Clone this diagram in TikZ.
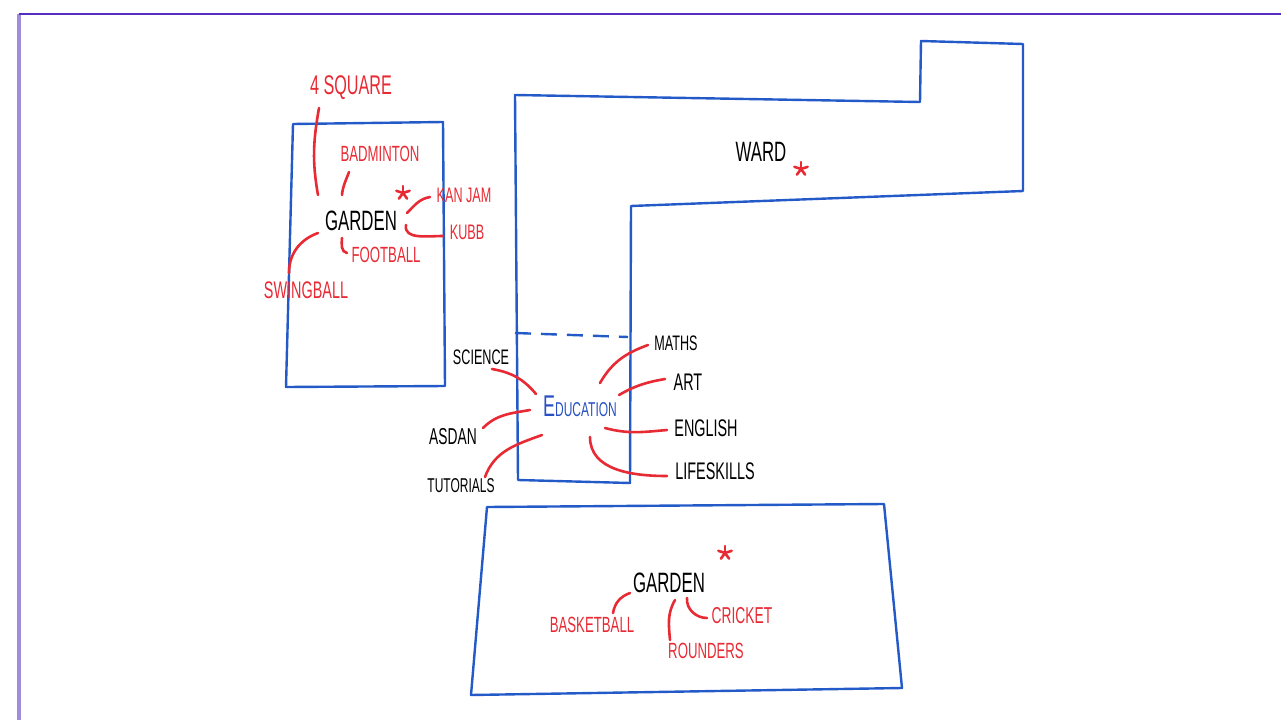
\documentclass[tikz,border=0pt]{standalone}
\usepackage{fontspec}
\setmainfont[FakeStretch=0.6]{Liberation Sans}
\definecolor{pen}{RGB}{35,90,200}
\definecolor{marker}{RGB}{232,42,52}
\definecolor{frameline}{RGB}{85,45,195}
\definecolor{edublue}{RGB}{40,80,195}

\begin{document}
\begin{tikzpicture}[x=0.5pt,y=0.5pt,
    room/.style={pen, line width=1.2pt, line join=round},
    link/.style={marker, line width=1.3pt, line cap=round},
    place/.style={inner sep=0pt, black, font=\fontsize{14}{14}\selectfont},
    game/.style={inner sep=0pt, marker, font=\fontsize{#1}{#1}\selectfont},
    subject/.style={inner sep=0pt, black, font=\fontsize{#1}{#1}\selectfont}]
          \useasboundingbox (0,0) rectangle (1281,720);

          % Page frame
          \draw [frameline!55, line width=1.8pt] (19,706) -- (19,0);
          \draw [frameline, line width=1pt] (19,706) -- (1281,706);

          % Rooms
          \draw [room] (293,596) -- (443,598) -- (445,334) -- (286,333) -- cycle;
          \draw [room] (515,625) -- (920,618) -- (921,679) -- (1023,676) --
            (1023,529) -- (631,514) -- (630,237) -- (518,240) -- cycle;
          \draw [room, dashed, dash pattern=on 8pt off 5pt] (515,387) -- (628,383);
          \draw [room] (487,213) -- (884,216) -- (902,32) -- (471,25) -- cycle;

          % Top garden
          \node [place] (gardenL) at (361,499) {GARDEN};
          \node [game=13.5] (square) at (351,632) {4 SQUARE};
          \node [game=11] (badminton) at (380,566) {BADMINTON};
          \node [game=10.5] (kanjam) at (464,525) {KAN JAM};
          \node [game=10.5] (kubb) at (467,488) {KUBB};
          \node [game=11] (football) at (386,465) {FOOTBALL};
          \node [game=12] (swingball) at (306,430) {SWINGBALL};
          \coordinate (starL) at (403,527);

          \draw [link] ([shift={(-32,-20)}]square.center) to[out=260, in=100]
            ([shift={(-43,26)}]gardenL.center);
          \draw [link] ([shift={(-31,-18)}]badminton.center) to[out=250, in=85]
            ([shift={(-19,26)}]gardenL.center);
          \draw [link] ([shift={(46,8)}]gardenL.center) to[out=45, in=190]
            ([shift={(-34,-2)}]kanjam.center);
          \draw [link] ([shift={(45,-4)}]gardenL.center) to[out=260, in=180]
            ([shift={(-24,-4)}]kubb.center);
          \draw [link] ([shift={(-19,-17)}]gardenL.center) to[out=265, in=170]
            ([shift={(-39,2)}]football.center);
          \draw [link] ([shift={(-43,-12)}]gardenL.center) to[out=200, in=90]
            ([shift={(-17,17)}]swingball.center);

          % Ward
          \node [place] (ward) at (761,568) {WARD};
          \coordinate (starW) at (801,551);

          % Education
          \node [inner sep=0pt, edublue, font=\fontsize{10}{10}\selectfont] (edu)
            at (580,314) {{\fontsize{15}{15}\selectfont E}DUCATION};
          \node [subject=10.5] (science) at (481,363) {SCIENCE};
          \node [subject=10.5] (maths) at (676,377) {MATHS};
          \node [subject=12] (art) at (688,338) {ART};
          \node [subject=11.5] (asdan) at (453,283) {ASDAN};
          \node [subject=12] (english) at (706,292) {ENGLISH};
          \node [subject=10] (tutorials) at (461,234) {TUTORIALS};
          \node [subject=12] (lifeskills) at (715,249) {LIFESKILLS};

          \draw [link] ([shift={(11,-12)}]science.center) to[out=-10, in=130]
            ([shift={(-44,12)}]edu.center);
          \draw [link] ([shift={(-28,-2)}]maths.center) to[out=200, in=60]
            ([shift={(20,23)}]edu.center);
          \draw [link] ([shift={(-23,3)}]art.center) to[out=190, in=30]
            ([shift={(39,11)}]edu.center);
          \draw [link] ([shift={(30,9)}]asdan.center) to[out=45, in=190]
            ([shift={(-50,-4)}]edu.center);
          \draw [link] ([shift={(25,-22)}]edu.center) to[out=-15, in=185]
            ([shift={(-39,-2)}]english.center);
          \draw [link] ([shift={(24,9)}]tutorials.center) to[out=70, in=200]
            ([shift={(-38,-29)}]edu.center);
          \draw [link] ([shift={(10,-31)}]edu.center) to[out=270, in=180]
            ([shift={(-48,-5)}]lifeskills.center);

          % Bottom garden
          \node [place] (gardenB) at (669,137) {GARDEN};
          \node [game=11] (basketball) at (592,95) {BASKETBALL};
          \node [game=11.5] (cricket) at (742,104) {CRICKET};
          \node [game=11] (rounders) at (706,69) {ROUNDERS};
          \coordinate (starB) at (725,167);

          \draw [link] ([shift={(21,12)}]basketball.center) to[out=80, in=200]
            ([shift={(-39,-10)}]gardenB.center);
          \draw [link] ([shift={(18,-15)}]gardenB.center) to[out=265, in=180]
            ([shift={(-35,-2)}]cricket.center);
          \draw [link] ([shift={(6,-17)}]gardenB.center) to[out=240, in=95]
            ([shift={(-36,11)}]rounders.center);

          % Stars
          \foreach \s in {starL, starW, starB}
            \foreach \a in {90, 162, 234, 306, 18}
              \draw [marker, line width=1.3pt, line cap=round] (\s) -- ([shift={(\a:7)}]\s);
        \end{tikzpicture}
\end{document}
